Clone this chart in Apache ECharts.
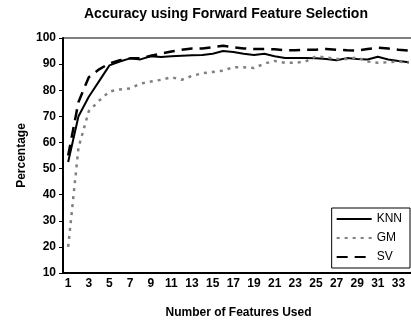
<!DOCTYPE html>
<html>
<head>
<meta charset="utf-8">
<script src="https://cdn.jsdelivr.net/npm/echarts@6/dist/echarts.min.js"></script>
<style>
  html, body { margin: 0; padding: 0; background: #fff; }
  #chart { width: 411px; height: 320px; }
</style>
</head>
<body>
<div id="chart"></div>
<script>
// number of features used, 1..34
var features = [];
for (var i = 1; i <= 34; i++) features.push(String(i));

var knn = [52.5, 70, 77.5, 83.5, 89.5, 91, 92.2, 91.8, 93, 92.7,
  93, 93.2, 93.4, 93.5, 94, 95, 94.6, 94, 93.5, 94,
  93, 92.3, 92.3, 92.3, 92.2, 92, 91.5, 92.3, 92, 91.8,
  92.8, 91.8, 91.2, 90.7];
var gm = [20, 58, 72, 76, 79.5, 80.3, 80.7, 82.5, 83.3, 84,
  85, 84, 85.5, 86.5, 87, 87.5, 88.8, 88.8, 88.5, 90.2,
  91.2, 90.5, 90.5, 91, 93, 92.5, 92, 92, 92.5, 91,
  90.5, 90.7, 91, 90.5];
var sv = [55, 75.5, 85, 88, 90.3, 91.5, 92.2, 92.2, 93.2, 94,
  94.8, 95.5, 96, 96, 96.5, 97, 96.5, 96, 95.8, 95.8,
  95.7, 95.3, 95.3, 95.5, 95.5, 95.8, 95.5, 95.3, 95.2, 95.8,
  96.3, 96, 95.5, 95.2];

var font = "'Liberation Sans', Arial, sans-serif";

var chart = echarts.init(document.getElementById("chart"));
chart.setOption({
  animation: false,
  title: {
    text: "Accuracy using Forward Feature Selection",
    left: 84,
    top: 7,
    padding: 0,
    textStyle: { fontFamily: font, fontSize: 14, fontWeight: "bold", color: "#000" }
  },
  legend: {
    data: ["KNN", "GM", "SV"],
    orient: "vertical",
    right: 1,
    top: 208,
    padding: [5, 8, 5, 4],
    itemGap: 7,
    itemWidth: 35,
    itemHeight: 12,
    borderColor: "#000",
    borderWidth: 1,
    itemStyle: { opacity: 0 },
    textStyle: { fontFamily: font, fontSize: 12, color: "#000" }
  },
  grid: {
    left: 63,
    right: -3,
    top: 38,
    bottom: 47,
    outerBoundsMode: "none",
    show: true,
    borderColor: "#000",
    borderWidth: 1
  },
  xAxis: {
    type: "category",
    data: features,
    boundaryGap: true,
    name: "Number of Features Used",
    nameLocation: "middle",
    nameGap: 34,
    nameTextStyle: { fontFamily: font, fontSize: 12, fontWeight: "bold", color: "#000" },
    axisLine: { lineStyle: { color: "#000", width: 2 } },
    axisTick: { interval: 0, length: 4, lineStyle: { color: "#000" } },
    axisLabel: { interval: 1, margin: 5, fontFamily: font, fontSize: 12, fontWeight: "bold", color: "#000" },
    splitLine: { show: false }
  },
  yAxis: {
    type: "value",
    min: 10,
    max: 100,
    interval: 10,
    name: "Percentage",
    nameLocation: "middle",
    nameGap: 35,
    nameMoveOverlap: false,
    nameTextStyle: { fontFamily: font, fontSize: 12, fontWeight: "bold", color: "#000" },
    axisLine: { show: true, lineStyle: { color: "#000", width: 2 } },
    axisTick: { show: true, length: 4, lineStyle: { color: "#000" } },
    axisLabel: { margin: 7, fontFamily: font, fontSize: 12, fontWeight: "bold", color: "#000" },
    splitLine: { show: false }
  },
  series: [
    {
      name: "KNN",
      type: "line",
      data: knn,
      symbol: "none",
      color: "#000",
      lineStyle: { color: "#000", width: 2 }
    },
    {
      name: "GM",
      type: "line",
      data: gm,
      symbol: "none",
      color: "#808080",
      lineStyle: { color: "#808080", width: 2.5, type: [3, 5] }
    },
    {
      name: "SV",
      type: "line",
      data: sv,
      symbol: "none",
      color: "#000",
      lineStyle: { color: "#000", width: 2.5, type: [11, 7] }
    }
  ]
});
</script>
</body>
</html>
